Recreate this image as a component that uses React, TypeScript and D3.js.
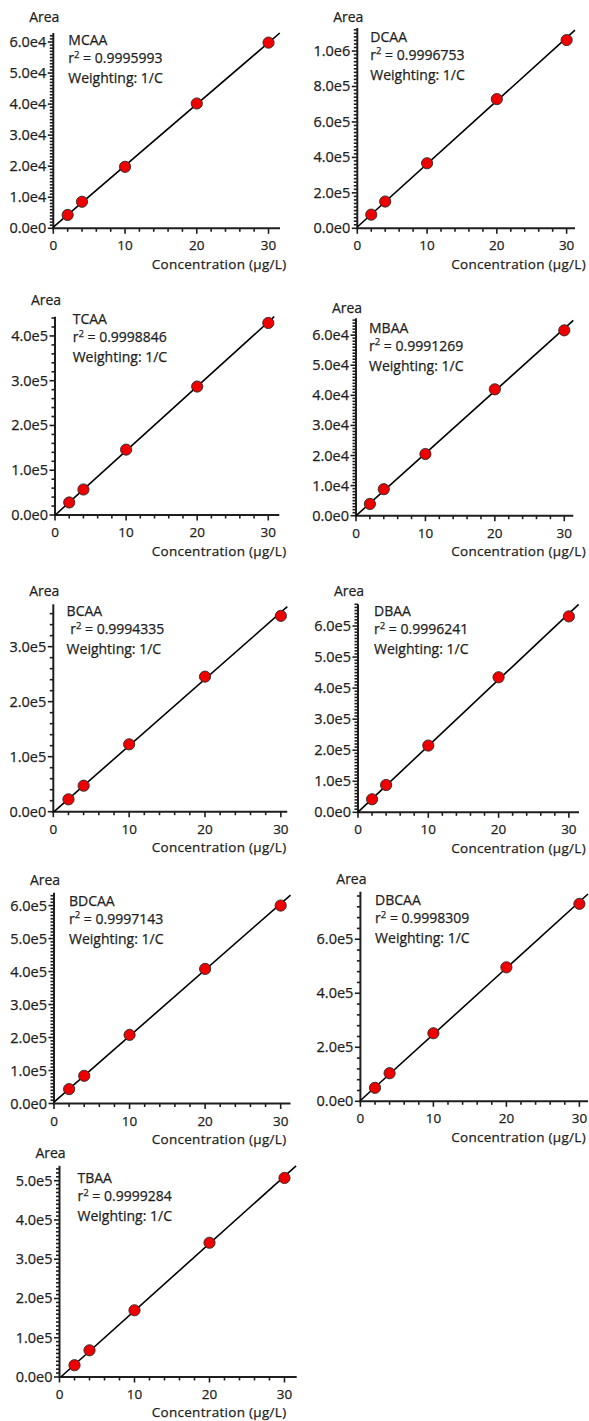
import React from 'react';
import * as d3 from 'd3';

// calibration levels (µg/L)
const concentrations = [2, 4, 10, 20, 30];
const compounds = ['MCAA', 'DCAA', 'TCAA', 'MBAA', 'BCAA', 'DBAA', 'BDCAA', 'DBCAA', 'TBAA'];
const rSquared = ['0.9995993', '0.9996753', '0.9998846', '0.9991269', '0.9994335', '0.9996241', '0.9997143', '0.9998309', '0.9999284'];

// peak areas
const areaMCAA = [4300, 8550, 19800, 40200, 59800];
const areaDCAA = [77000, 151000, 367000, 729000, 1062000];
const areaTCAA = [28000, 57000, 146000, 287000, 429000];
const areaMBAA = [3900, 8800, 20500, 42000, 61600];
const areaBCAA = [22500, 47300, 122500, 245500, 356000];
const areaDBAA = [42000, 88000, 215000, 435000, 631000];
const areaBDCAA = [43600, 84000, 208000, 408000, 600000];
const areaDBCAA = [50000, 104000, 252000, 496000, 731000];
const areaTBAA = [30000, 68000, 170000, 342000, 507000];
const areas = [areaMCAA, areaDCAA, areaTCAA, areaMBAA, areaBCAA, areaDBAA, areaBDCAA, areaDBCAA, areaTBAA];

const xMajorTicks = [0, 10, 20, 30];
const xMinorStep = 2;
const weighting = 'Weighting: 1/C';

// panel frames in page pixels + axis ranges
const frames = [
  { left: 53.3, bottom: 228.3, right: 280, top: 33, xEnd: 31.6, yTop: 6.29e4, yMajor: 1e4, yMinor: 1e3, areaY: 17, titleDx: 15, titleY: 40, rDx: 0, tickY: 22, labY: 40.5 },
  { left: 357.3, bottom: 228.3, right: 575, top: 28, xEnd: 31.2, yTop: 1.13e6, yMajor: 2e5, yMinor: 2e4, areaY: 16.7, titleDx: 13, titleY: 36.7, rDx: 0, tickY: 22, labY: 40.5 },
  { left: 55, bottom: 515, right: 279.3, top: 316.7, xEnd: 31.55, yTop: 4.43e5, yMajor: 1e5, yMinor: 2e4, areaY: 300, titleDx: 17.7, titleY: 319.3, rDx: 0, tickY: 22, labY: 40.5 },
  { left: 356, bottom: 515.7, right: 573.3, top: 318.3, xEnd: 31.3, yTop: 6.56e4, yMajor: 1e4, yMinor: 1e3, areaY: 307.7, titleDx: 13, titleY: 327.7, rDx: 0, tickY: 22, labY: 40.5 },
  { left: 53.3, bottom: 811.7, right: 287.3, top: 604.3, xEnd: 30.85, yTop: 3.77e5, yMajor: 1e5, yMinor: 2e4, areaY: 591, titleDx: 13.3, titleY: 611, rDx: 3.6, tickY: 22, labY: 40.5 },
  { left: 358, bottom: 812.3, right: 579, top: 604.3, xEnd: 31.44, yTop: 6.7e5, yMajor: 1e5, yMinor: 1e4, areaY: 591, titleDx: 16, titleY: 611, rDx: 0, tickY: 22, labY: 40.5 },
  { left: 54, bottom: 1103.5, right: 290.5, top: 892.7, xEnd: 31.3, yTop: 6.39e5, yMajor: 1e5, yMinor: 1e4, areaY: 880, titleDx: 15, titleY: 900.7, rDx: 0, tickY: 22, labY: 40.5 },
  { left: 360.4, bottom: 1101.3, right: 588, top: 891.7, xEnd: 31.18, yTop: 7.76e5, yMajor: 2e5, yMinor: 4e4, areaY: 879, titleDx: 14.7, titleY: 900, rDx: 0, tickY: 22, labY: 40.5 },
  { left: 59.5, bottom: 1377, right: 296.7, top: 1165.8, xEnd: 31.63, yTop: 5.38e5, yMajor: 1e5, yMinor: 1e4, areaY: 1153, titleDx: 18, titleY: 1178, rDx: 0, tickY: 21.5, labY: 40 },
];
const xLabelRight = [286.5, 586];

const W = 589;
const H = 1421;
const FONT = '"Open Sans", "DejaVu Sans", sans-serif';
const INK = '#1e1e1e';
// thin outline so the text reads as heavy as the reference
const txt = { fill: INK, stroke: INK, strokeWidth: 0.25 };

const fmtExp = (v: number) => d3.format('.1e')(v).replace('e+', 'e');

// 1/C weighted least squares
function fitLine(xs: number[], ys: number[]) {
  const w = xs.map(x => 1 / x);
  const sw = d3.sum(w);
  const mx = d3.sum(xs, (x, i) => w[i] * x) / sw;
  const my = d3.sum(ys, (y, i) => w[i] * y) / sw;
  const sxy = d3.sum(xs, (x, i) => w[i] * (x - mx) * (ys[i] - my));
  const sxx = d3.sum(xs, (x, i) => w[i] * (x - mx) * (x - mx));
  const m = sxy / sxx;
  return { m, b: my - m * mx };
}

const Panel = ({ idx }: { idx: number }) => {
  const f = frames[idx];
  const ys = areas[idx];
  const x = d3.scaleLinear().domain([0, f.xEnd]).range([f.left, f.right]);
  const y = d3.scaleLinear().domain([0, f.yTop]).range([f.bottom, f.top]);

  const nMinor = Math.floor(f.yTop / f.yMinor + 1e-6);
  const ratio = Math.round(f.yMajor / f.yMinor);
  const yTicks = d3.range(0, nMinor + 1).map(i => ({ v: i * f.yMinor, major: i % ratio === 0 }));
  const xTicks = d3.range(0, Math.floor(f.xEnd / xMinorStep) + 1).map(i => i * xMinorStep);

  const { m, b } = fitLine(concentrations, ys);
  const x0 = b < 0 ? -b / m : 0;
  const x1 = Math.min(f.xEnd, (f.yTop - b) / m);
  const fit = d3.line<number>().x(d => x(d)).y(d => y(m * d + b))([x0, x1]) || '';

  const col = f.left < W / 2 ? 0 : 1;
  const tx = f.left + f.titleDx;

  return (
    <g>
      {/* y ticks */}
      {yTicks.map((t, i) => (
        <line key={'y' + i} x1={f.left - (t.major ? 5.5 : 3.5)} x2={f.left} y1={y(t.v)} y2={y(t.v)}
          stroke={INK} strokeWidth={1.6} />
      ))}
      {yTicks.filter(t => t.major).map((t, i) => (
        <text key={'yl' + i} x={f.left - 7} y={y(t.v) + 5} textAnchor="end" fontSize={14.5} {...txt}>
          {fmtExp(t.v)}
        </text>
      ))}
      {/* x ticks */}
      {xTicks.map(v => {
        const major = xMajorTicks.includes(v);
        return (
          <line key={'x' + v} x1={x(v)} x2={x(v)} y1={f.bottom} y2={f.bottom + (major ? 5.5 : 3.5)}
            stroke={INK} strokeWidth={1.6} />
        );
      })}
      {xMajorTicks.map(v => (
        <text key={'xl' + v} x={x(v)} y={f.bottom + f.tickY} textAnchor="middle" fontSize={13.5} {...txt}>{v}</text>
      ))}
      {/* axes */}
      <line x1={f.left} x2={f.left} y1={f.top} y2={f.bottom + 1} stroke={INK} strokeWidth={2} />
      <line x1={f.left - 1} x2={f.right} y1={f.bottom} y2={f.bottom} stroke={INK} strokeWidth={2} />

      <text x={f.left - 9} y={f.areaY + 5} textAnchor="middle" fontSize={14} {...txt}>Area</text>
      <text x={xLabelRight[col]} y={f.bottom + f.labY} textAnchor="end" fontSize={13.5} letterSpacing={0.3} {...txt}>
        Concentration (µg/L)
      </text>

      {/* annotation */}
      <text x={tx} y={f.titleY + 5} fontSize={14} {...txt}>{compounds[idx]}</text>
      <text x={tx + f.rDx} y={f.titleY + 23} fontSize={14} {...txt}>
        r<tspan dy={-5.5} fontSize={9.5}>2</tspan><tspan dy={5.5}>{' = ' + rSquared[idx]}</tspan>
      </text>
      <text x={tx} y={f.titleY + 43} fontSize={14} {...txt}>{weighting}</text>

      {/* regression + points */}
      <path d={fit} fill="none" stroke="#000" strokeWidth={1.6} />
      {concentrations.map((c, i) => (
        <circle key={'p' + i} cx={x(c)} cy={y(ys[i])} r={5.6} fill="#ee0000" stroke="#2a2a2a" strokeWidth={0.9} />
      ))}
    </g>
  );
};

export default function App() {
  return (
    <svg width={W} height={H} viewBox={`0 0 ${W} ${H}`}
      style={{ position: 'absolute', left: 0, top: 0, background: '#fff', fontFamily: FONT }}>
      <rect width={W} height={H} fill="#fff" />
      {compounds.map((c, i) => <Panel key={c} idx={i} />)}
    </svg>
  );
}
